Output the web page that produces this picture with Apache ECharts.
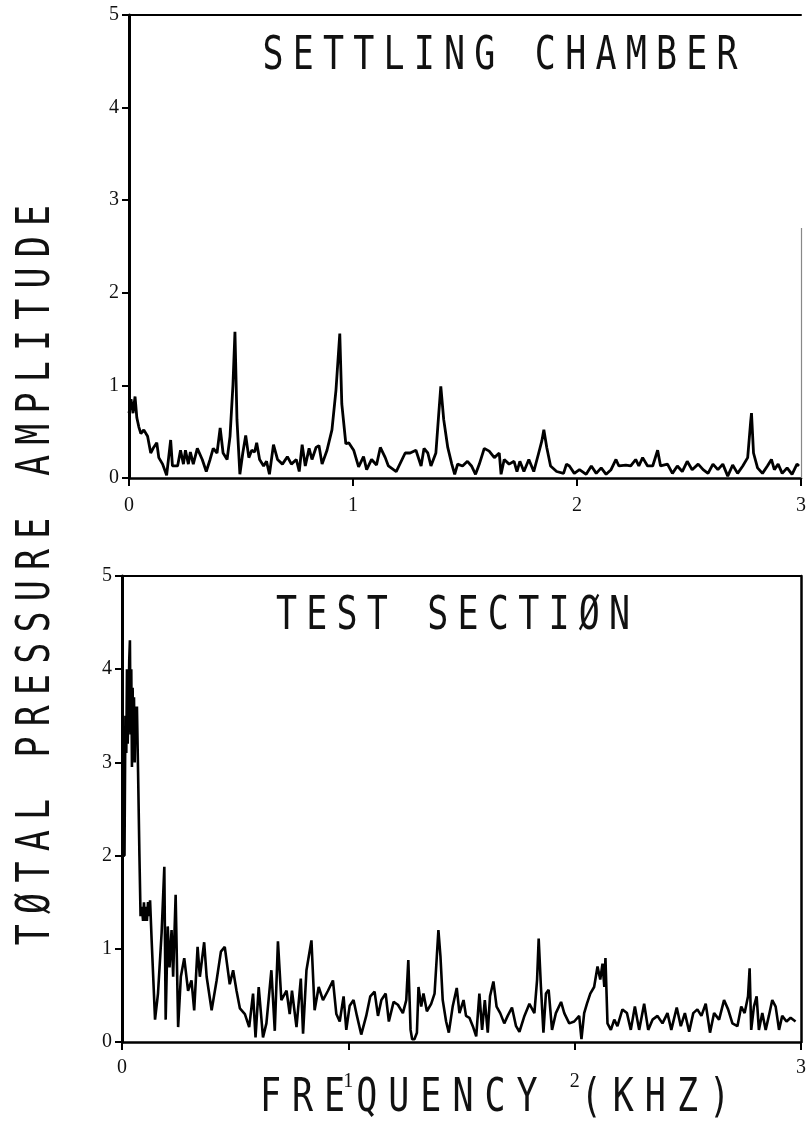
<!DOCTYPE html>
<html>
<head>
<meta charset="utf-8">
<script src="https://cdn.jsdelivr.net/npm/echarts@6/dist/echarts.min.js"></script>
<style>
html,body{margin:0;padding:0;background:#fff;}
#chart{width:809px;height:1130px;}
</style>
</head>
<body>
<div id="chart"></div>
<script>
// ---- DATA (frequency in kHz, amplitude) ----
const panelTitles = ['SETTLING CHAMBER', 'TEST SECTIØN'];
const yAxisTitle = 'TØTAL PRESSURE AMPLITUDE';
const xAxisTitle = 'FREQUENCY (KHZ)';
const xTicks = [0, 1, 2, 3];
const yTicks = [0, 1, 2, 3, 4, 5];

const settlingChamber = [
 [0.000,0.70],[0.009,0.85],[0.018,0.70],[0.027,0.88],[0.035,0.65],[0.044,0.55],[0.053,0.48],[0.066,0.52],[0.083,0.45],[0.097,0.27],
 [0.110,0.33],[0.124,0.38],[0.133,0.22],[0.150,0.15],[0.168,0.03],[0.186,0.41],[0.194,0.13],[0.217,0.13],[0.230,0.30],[0.243,0.15],
 [0.252,0.30],[0.265,0.15],[0.274,0.28],[0.287,0.15],[0.305,0.32],[0.327,0.20],[0.345,0.07],[0.362,0.20],[0.376,0.32],[0.393,0.27],
 [0.407,0.54],[0.420,0.27],[0.438,0.20],[0.451,0.45],[0.464,1.00],[0.473,1.58],[0.482,0.63],[0.495,0.04],[0.508,0.27],[0.521,0.46],
 [0.535,0.22],[0.548,0.30],[0.561,0.28],[0.570,0.38],[0.583,0.20],[0.601,0.13],[0.614,0.18],[0.627,0.04],[0.645,0.36],[0.663,0.20],
 [0.685,0.15],[0.707,0.23],[0.725,0.15],[0.747,0.20],[0.760,0.07],[0.773,0.36],[0.787,0.13],[0.804,0.32],[0.817,0.20],[0.835,0.33],
 [0.848,0.35],[0.862,0.15],[0.884,0.30],[0.906,0.52],[0.924,0.95],[0.941,1.56],[0.950,0.80],[0.968,0.37],[0.981,0.38],[1.003,0.30],
 [1.025,0.12],[1.047,0.23],[1.061,0.09],[1.083,0.20],[1.105,0.14],[1.122,0.33],[1.144,0.22],[1.158,0.13],[1.193,0.07],[1.233,0.27],
 [1.255,0.27],[1.281,0.30],[1.304,0.13],[1.317,0.32],[1.334,0.27],[1.348,0.13],[1.370,0.27],[1.383,0.70],[1.392,0.99],[1.405,0.63],
 [1.423,0.33],[1.441,0.15],[1.454,0.04],[1.467,0.15],[1.489,0.13],[1.511,0.18],[1.529,0.13],[1.547,0.04],[1.564,0.15],[1.586,0.32],
 [1.608,0.29],[1.631,0.22],[1.653,0.27],[1.661,0.04],[1.675,0.20],[1.697,0.15],[1.719,0.18],[1.732,0.07],[1.745,0.18],[1.763,0.07],
 [1.785,0.20],[1.807,0.07],[1.829,0.27],[1.843,0.40],[1.852,0.52],[1.865,0.33],[1.882,0.13],[1.909,0.07],[1.940,0.05],[1.953,0.15],
 [1.966,0.13],[1.988,0.05],[2.011,0.09],[2.041,0.04],[2.064,0.13],[2.086,0.05],[2.108,0.11],[2.130,0.04],[2.152,0.09],[2.174,0.20],
 [2.187,0.13],[2.218,0.14],[2.240,0.13],[2.262,0.20],[2.276,0.13],[2.293,0.22],[2.315,0.13],[2.338,0.13],[2.360,0.30],[2.373,0.13],
 [2.404,0.15],[2.426,0.05],[2.448,0.13],[2.470,0.07],[2.492,0.18],[2.514,0.09],[2.541,0.15],[2.563,0.09],[2.585,0.05],[2.607,0.15],
 [2.629,0.09],[2.651,0.15],[2.673,0.02],[2.695,0.14],[2.717,0.05],[2.740,0.13],[2.762,0.22],[2.775,0.60],[2.779,0.70],[2.788,0.27],
 [2.806,0.11],[2.828,0.05],[2.850,0.13],[2.868,0.20],[2.881,0.09],[2.898,0.15],[2.916,0.05],[2.938,0.11],[2.960,0.04],[2.982,0.15],
 [2.991,0.13]
];

const testSection = [
 [0.000,2.00],[0.011,2.00],[0.015,3.50],[0.019,3.10],[0.022,4.00],[0.025,3.20],[0.029,3.60],[0.032,4.10],[0.035,4.31],[0.038,3.30],
 [0.041,4.00],[0.044,2.95],[0.047,3.80],[0.050,3.10],[0.053,3.70],[0.056,3.00],[0.060,3.60],[0.063,3.20],[0.066,3.60],[0.071,2.90],
 [0.077,2.00],[0.082,1.35],[0.084,1.35],[0.088,1.45],[0.093,1.30],[0.097,1.50],[0.101,1.30],[0.106,1.45],[0.110,1.30],[0.115,1.50],
 [0.119,1.35],[0.124,1.52],[0.131,1.09],[0.146,0.24],[0.159,0.52],[0.175,1.17],[0.187,1.88],[0.193,0.24],[0.202,1.24],[0.210,0.80],
 [0.219,1.20],[0.226,0.70],[0.237,1.58],[0.248,0.16],[0.260,0.70],[0.275,0.90],[0.292,0.55],[0.307,0.66],[0.319,0.34],[0.334,1.02],
 [0.344,0.70],[0.363,1.07],[0.374,0.70],[0.396,0.34],[0.418,0.66],[0.437,0.97],[0.454,1.02],[0.476,0.62],[0.491,0.77],[0.506,0.55],
 [0.521,0.36],[0.543,0.30],[0.562,0.16],[0.579,0.52],[0.590,0.05],[0.604,0.59],[0.623,0.05],[0.638,0.20],[0.660,0.77],[0.675,0.12],
 [0.689,1.08],[0.704,0.45],[0.727,0.55],[0.741,0.30],[0.751,0.55],[0.771,0.16],[0.790,0.68],[0.800,0.09],[0.815,0.77],[0.837,1.09],
 [0.851,0.34],[0.869,0.59],[0.888,0.45],[0.910,0.55],[0.932,0.66],[0.947,0.30],[0.962,0.22],[0.979,0.49],[0.991,0.13],[1.006,0.39],
 [1.023,0.45],[1.038,0.28],[1.057,0.08],[1.079,0.28],[1.097,0.49],[1.116,0.54],[1.131,0.28],[1.146,0.45],[1.165,0.52],[1.179,0.22],
 [1.200,0.43],[1.219,0.40],[1.241,0.31],[1.256,0.45],[1.265,0.88],[1.275,0.13],[1.282,0.03],[1.292,0.03],[1.303,0.10],[1.310,0.59],
 [1.322,0.38],[1.332,0.52],[1.347,0.33],[1.366,0.41],[1.381,0.52],[1.391,0.92],[1.398,1.20],[1.407,0.92],[1.417,0.45],[1.432,0.22],
 [1.444,0.10],[1.461,0.38],[1.479,0.58],[1.491,0.31],[1.509,0.45],[1.520,0.28],[1.535,0.26],[1.550,0.17],[1.565,0.06],[1.579,0.52],
 [1.591,0.13],[1.603,0.45],[1.616,0.10],[1.626,0.49],[1.641,0.65],[1.655,0.38],[1.671,0.31],[1.689,0.20],[1.704,0.28],[1.723,0.37],
 [1.741,0.17],[1.756,0.11],[1.778,0.28],[1.800,0.41],[1.822,0.31],[1.834,0.67],[1.841,1.11],[1.851,0.59],[1.862,0.10],[1.873,0.52],
 [1.885,0.56],[1.900,0.13],[1.917,0.31],[1.940,0.43],[1.954,0.31],[1.976,0.20],[1.998,0.22],[2.020,0.28],[2.030,0.03],[2.042,0.31],
 [2.054,0.41],[2.069,0.52],[2.086,0.59],[2.101,0.81],[2.113,0.67],[2.123,0.84],[2.131,0.59],[2.136,0.90],[2.145,0.20],[2.160,0.13],
 [2.175,0.24],[2.189,0.17],[2.211,0.35],[2.231,0.31],[2.248,0.13],[2.266,0.38],[2.285,0.13],[2.307,0.41],[2.325,0.13],[2.344,0.24],
 [2.366,0.28],[2.388,0.20],[2.410,0.31],[2.427,0.13],[2.451,0.37],[2.469,0.17],[2.487,0.31],[2.506,0.11],[2.524,0.31],[2.542,0.35],
 [2.560,0.28],[2.579,0.41],[2.598,0.10],[2.616,0.31],[2.638,0.24],[2.660,0.45],[2.678,0.35],[2.697,0.20],[2.719,0.17],[2.736,0.38],
 [2.751,0.31],[2.766,0.49],[2.773,0.79],[2.780,0.13],[2.792,0.38],[2.804,0.49],[2.814,0.13],[2.829,0.31],[2.844,0.13],[2.858,0.28],
 [2.873,0.45],[2.888,0.38],[2.903,0.13],[2.917,0.28],[2.936,0.22],[2.954,0.26],[2.976,0.22]
];

// faint right edge of the upper frame (x = 3 kHz, from 0 up to ~2.7)
const topFrameRightEdge = [[3, 0], [3, 2.7]];

// ---- helpers ----
const PLOT_FONT = 'DejaVu Sans Mono';
function spaced(str) {
  return str.split('').map(function (ch) { return '{c|' + ch + '}'; }).join('');
}
function plotterText(str, x, y, size, pad, sy, rot) {
  return {
    type: 'text', x: x, y: y, rotation: rot || 0, scaleY: sy, silent: true,
    style: {
      text: spaced(str), align: 'center', verticalAlign: 'middle', fill: '#111',
      rich: { c: { fontFamily: PLOT_FONT, fontSize: size, fill: '#111', padding: [0, pad, 0, pad] } }
    }
  };
}
const labelStyle = { fontFamily: 'Liberation Serif', fontSize: 20, color: '#111' };

function xMain(grid, margin, labelFmt, rich) {
  return {
    gridIndex: grid, type: 'value', min: 0, max: 3, interval: 1, position: 'bottom',
    axisLine: { show: true, onZero: false, lineStyle: { color: '#000', width: 2.5 } },
    axisTick: { show: true, length: 8, lineStyle: { color: '#000', width: 2 } },
    axisLabel: Object.assign({ margin: margin, formatter: labelFmt, rich: rich }, labelStyle),
    splitLine: { show: false }
  };
}
function xBorder(grid, w, col) {
  return {
    gridIndex: grid, type: 'value', min: 0, max: 3, position: 'top',
    axisLine: { show: true, onZero: false, lineStyle: { color: col, width: w } },
    axisTick: { show: false }, axisLabel: { show: false }, splitLine: { show: false }
  };
}
function yMain(grid) {
  return {
    gridIndex: grid, type: 'value', min: 0, max: 5, interval: 1, position: 'left',
    axisLine: { show: true, onZero: false, lineStyle: { color: '#000', width: 3 } },
    axisTick: { show: true, length: 7, lineStyle: { color: '#000', width: 2 } },
    axisLabel: Object.assign({ margin: 10 }, labelStyle),
    splitLine: { show: false }
  };
}
function yBorder(grid, w, col) {
  return {
    gridIndex: grid, type: 'value', min: 0, max: 5, position: 'right',
    axisLine: { show: true, onZero: false, lineStyle: { color: col, width: w } },
    axisTick: { show: false }, axisLabel: { show: false }, splitLine: { show: false }
  };
}

const bottomRich = {
  n: { fontFamily: 'Liberation Serif', fontSize: 20, color: '#111' },
  lo: { fontFamily: 'Liberation Serif', fontSize: 20, color: '#111', padding: [14, 0, 0, 0] }
};

const chart = echarts.init(document.getElementById('chart'), null, { renderer: 'canvas' });
chart.setOption({
  animation: false,
  backgroundColor: '#fff',
  grid: [
    { left: 129, top: 15, width: 678, height: 463 },
    { left: 122, top: 576, width: 680, height: 466 }
  ],
  xAxis: [
    xMain(0, 18, function (v) { return String(v); }),
    xBorder(0, 2, '#000'),
    xMain(1, 16, function (v) { return (v === 1 || v === 2) ? '{lo|' + v + '}' : '{n|' + v + '}'; }, bottomRich),
    xBorder(1, 2, '#000')
  ],
  yAxis: [
    yMain(0),
    yMain(1),
    yBorder(1, 2.5, '#000')
  ],
  series: [
    {
      type: 'line', name: panelTitles[0], xAxisIndex: 0, yAxisIndex: 0, data: settlingChamber,
      showSymbol: false, symbol: 'none', lineStyle: { color: '#000', width: 2.8 }, z: 5,
      markLine: {
        silent: true, symbol: 'none', label: { show: false },
        lineStyle: { color: '#888', width: 1.2, type: 'solid' },
        data: [[{ coord: topFrameRightEdge[0] }, { coord: topFrameRightEdge[1] }]]
      }
    },
    {
      type: 'line', name: panelTitles[1], xAxisIndex: 2, yAxisIndex: 1, data: testSection,
      showSymbol: false, symbol: 'none', lineStyle: { color: '#000', width: 2.6 }, z: 5
    }
  ],
  graphic: [
    plotterText(panelTitles[0], 500, 57, 35, 4.6, 1.3, 0),
    plotterText(panelTitles[1], 453, 617, 35, 4.6, 1.3, 0),
    plotterText(yAxisTitle, 37, 575, 35, 5.1, 1.3, Math.PI / 2),
    plotterText(xAxisTitle, 495, 1099, 35, 5.5, 1.3, 0)
  ]
});
</script>
</body>
</html>
